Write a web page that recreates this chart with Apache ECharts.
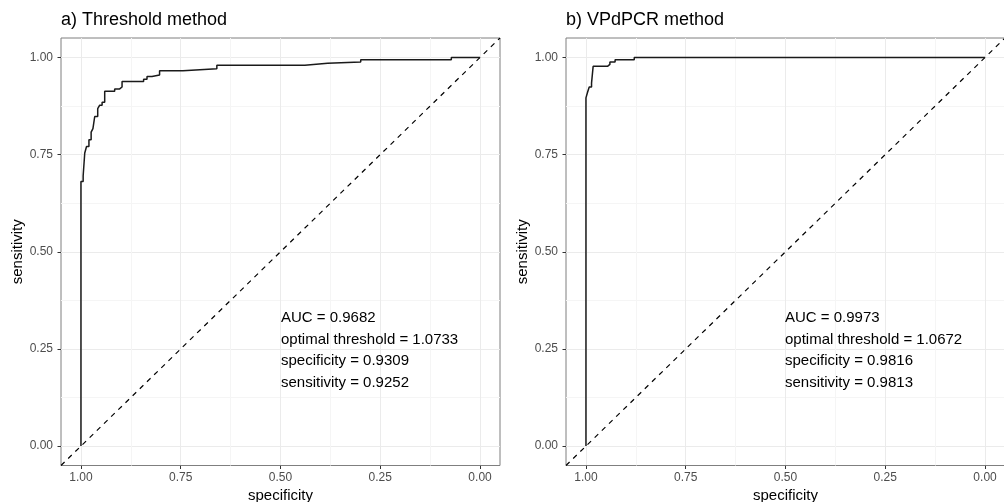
<!DOCTYPE html>
<html>
<head>
<meta charset="utf-8">
<script src="https://cdn.jsdelivr.net/npm/echarts@6/dist/echarts.min.js"></script>
<style>
  html, body { margin: 0; padding: 0; background: #fff; }
  #chart { width: 1004px; height: 502px; }
</style>
</head>
<body>
<div id="chart"></div>
<script>
// panel a) threshold method - ROC corners (specificity, sensitivity)
const specA = [1.000, 1.000, 0.9945, 0.9905, 0.986, 0.980, 0.9745, 0.970, 0.9655, 0.958, 0.953, 0.947, 0.9405,
  0.9155, 0.903, 0.897, 0.843, 0.8345, 0.822, 0.803, 0.7445, 0.6595, 0.439, 0.382, 0.299, 0.072, 0.000]
const sensA = [0.000, 0.681, 0.695, 0.754, 0.771, 0.788, 0.808, 0.817, 0.848, 0.868, 0.877, 0.885, 0.913,
  0.919, 0.924, 0.938, 0.944, 0.951, 0.955, 0.966, 0.971, 0.980, 0.985, 0.988, 0.994, 1.000, 1.000]

// panel b) VPdPCR method
const specB = [1.000, 1.000, 0.9958, 0.9918, 0.986, 0.982, 0.946, 0.940, 0.927, 0.879, 0.000]
const sensB = [0.000, 0.896, 0.911, 0.924, 0.934, 0.977, 0.982, 0.988, 0.994, 1.000, 1.000]

const majorTicks = [0, 0.25, 0.5, 0.75, 1]
const minorTicks = [0.125, 0.375, 0.625, 0.875]

const titles = ['a) Threshold method', 'b) VPdPCR method']
const notesA = ['AUC = 0.9682', 'optimal threshold = 1.0733', 'specificity = 0.9309', 'sensitivity = 0.9252']
const notesB = ['AUC = 0.9973', 'optimal threshold = 1.0672', 'specificity = 0.9816', 'sensitivity = 0.9813']

const FONT = '"Liberation Sans", Arial, Helvetica, sans-serif'
const gridLefts = [61, 566]

// horizontal first, then up: step path through the corners
function stepPath(xs, ys) {
  const out = [[xs[0], ys[0]]]
  for (let i = 1; i < xs.length; i++) {
    out.push([xs[i], ys[i - 1]])
    out.push([xs[i], ys[i]])
  }
  return out
}

function mainX(gi) {
  return {
    type: 'value', gridIndex: gi, inverse: true, min: -0.05, max: 1.05,
    name: 'specificity', nameLocation: 'middle', nameGap: 21,
    nameTextStyle: { fontSize: 15, color: '#000', fontFamily: FONT },
    axisLine: { show: false, onZero: false },
    axisTick: { show: true, length: 3.5, lineStyle: { color: '#333' }, customValues: majorTicks },
    axisLabel: { customValues: majorTicks, formatter: v => v.toFixed(2), color: '#4d4d4d', fontSize: 12, margin: 6, fontFamily: FONT },
    splitLine: { show: true, lineStyle: { color: '#ebebeb', width: 1 } }
  }
}
function mainY(gi) {
  return {
    type: 'value', gridIndex: gi, min: -0.05, max: 1.05,
    name: 'sensitivity', nameLocation: 'middle', nameGap: 35,
    nameTextStyle: { fontSize: 15, color: '#000', fontFamily: FONT },
    axisLine: { show: false, onZero: false },
    axisTick: { show: true, length: 3.5, lineStyle: { color: '#333' }, customValues: majorTicks },
    axisLabel: { customValues: majorTicks, formatter: v => v.toFixed(2), color: '#4d4d4d', fontSize: 12, margin: 8, fontFamily: FONT },
    splitLine: { show: true, lineStyle: { color: '#ebebeb', width: 1 } }
  }
}
function minorX(gi) {
  return {
    type: 'value', gridIndex: gi, inverse: true, min: -0.05, max: 1.05, position: 'bottom',
    axisLine: { show: false, onZero: false },
    axisTick: { show: false, customValues: minorTicks },
    axisLabel: { show: false },
    splitLine: { show: true, lineStyle: { color: '#f5f5f5', width: 1 } }
  }
}
function minorY(gi) {
  return {
    type: 'value', gridIndex: gi, min: -0.05, max: 1.05, position: 'left',
    axisLine: { show: false, onZero: false },
    axisTick: { show: false, customValues: minorTicks },
    axisLabel: { show: false },
    splitLine: { show: true, lineStyle: { color: '#f5f5f5', width: 1 } }
  }
}

function rocSeries(idx, data) {
  return {
    type: 'line', xAxisIndex: idx, yAxisIndex: idx, data: data,
    showSymbol: false, symbol: 'none', z: 4,
    lineStyle: { color: '#1a1a1a', width: 1.5 }
  }
}
function diagSeries(idx) {
  return {
    type: 'line', xAxisIndex: idx, yAxisIndex: idx, data: [[1.05, -0.05], [-0.05, 1.05]],
    showSymbol: false, symbol: 'none', z: 3,
    lineStyle: { color: '#000', width: 1.2, type: [5, 5] }
  }
}

function notes(lines, left) {
  return lines.map((t, i) => ({
    type: 'text', x: left, y: 318 + i * 21.5, z: 10,
    style: { text: t, fill: '#000', fontSize: 15, fontFamily: FONT, verticalAlign: 'middle', align: 'left' }
  }))
}

const chart = echarts.init(document.getElementById('chart'))
chart.setOption({
  animation: false,
  backgroundColor: '#fff',
  title: titles.map((t, i) => ({
    text: t, left: gridLefts[i], top: 11, padding: 0,
    textStyle: { fontSize: 18, fontWeight: 'normal', color: '#000', fontFamily: FONT }
  })),
  grid: gridLefts.map(l => ({
    left: l, top: 38, width: 439, height: 427.5, outerBoundsMode: 'none', containLabel: false,
    show: true, borderColor: '#7f7f7f', borderWidth: 1, backgroundColor: 'transparent'
  })),
  xAxis: [mainX(0), mainX(1), minorX(0), minorX(1)],
  yAxis: [mainY(0), mainY(1), minorY(0), minorY(1)],
  series: [
    diagSeries(0),
    rocSeries(0, stepPath(specA, sensA)),
    diagSeries(1),
    rocSeries(1, stepPath(specB, sensB))
  ],
  graphic: notes(notesA, 281).concat(notes(notesB, 785))
})
</script>
</body>
</html>
